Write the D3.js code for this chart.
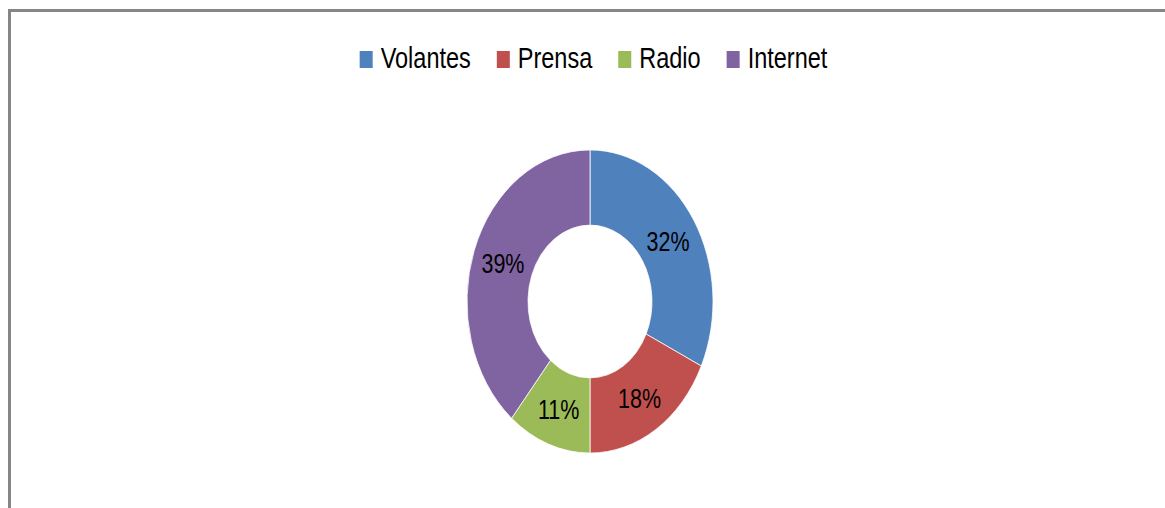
<!DOCTYPE html>
<html>
<head>
<meta charset="utf-8">
<script src="https://cdn.jsdelivr.net/npm/d3@7"></script>
<style>
  body { margin: 0; background: #fff; }
  text { font-family: "Liberation Sans", Arial, sans-serif; fill: #000; }
</style>
</head>
<body>
<div id="chart"></div>
<script>
var categories = ["Volantes", "Prensa", "Radio", "Internet"];
var values = [32, 18, 11, 39];
var colors = ["#4F81BD", "#C0504D", "#9BBB59", "#8064A2"];

var width = 1165,
    height = 508,
    cx = 590, cy = 301.5,
    outer = 123, inner = 62,
    stretch = 1.232;   // the donut is drawn taller than wide

var svg = d3.select("#chart").append("svg")
    .attr("width", width)
    .attr("height", height);

// frame (only top and left edges are visible)
svg.append("path")
    .attr("d", "M9.5,508 L9.5,10.5 L1165,10.5")
    .attr("fill", "none")
    .attr("stroke", "#868686")
    .attr("stroke-width", 3);

var data = categories.map(function(c, i) { return {name: c, value: values[i], color: colors[i]}; });

var pie = d3.pie()
    .sort(null)
    .value(function(d) { return d.value; });

var arc = d3.arc()
    .outerRadius(outer)
    .innerRadius(inner);

var arcs = pie(data);

var g = svg.append("g")
    .attr("transform", "translate(" + cx + "," + cy + ") scale(1," + stretch + ")");

g.selectAll("path")
    .data(arcs)
  .enter().append("path")
    .attr("d", arc)
    .attr("fill", function(d) { return d.data.color; })
    .attr("stroke", "#fff")
    .attr("stroke-width", 0.7);

// slice labels
svg.selectAll(".lbl")
    .data(arcs)
  .enter().append("text")
    .attr("class", "lbl")
    .attr("transform", function(d) {
      var c = arc.centroid(d);
      return "translate(" + (cx + c[0]) + "," + (cy + c[1] * stretch) + ") scale(1,1.3)";
    })
    .attr("text-anchor", "middle")
    .attr("dy", "0.36em")
    .style("font-size", "21.5px")
    .text(function(d) { return d.data.value + "%"; });

// legend
var legend = svg.append("g");
var items = legend.selectAll(".item")
    .data(data)
  .enter().append("g")
    .attr("class", "item");

items.append("rect")
    .attr("width", 13)
    .attr("height", 17)
    .attr("y", 51)
    .attr("fill", function(d) { return d.color; });

items.append("text")
    .attr("transform", "translate(21,68) scale(1,1.28)")
    .style("font-size", "23.5px")
    .text(function(d) { return d.name; });

var x = 0;
items.each(function() {
  var w = d3.select(this).select("text").node().getComputedTextLength();
  d3.select(this).attr("transform", "translate(" + x + ",0)");
  x += 21 + w + 26;
});
var total = x - 26;
legend.attr("transform", "translate(" + (593.5 - total / 2) + ",0)");
</script>
</body>
</html>
